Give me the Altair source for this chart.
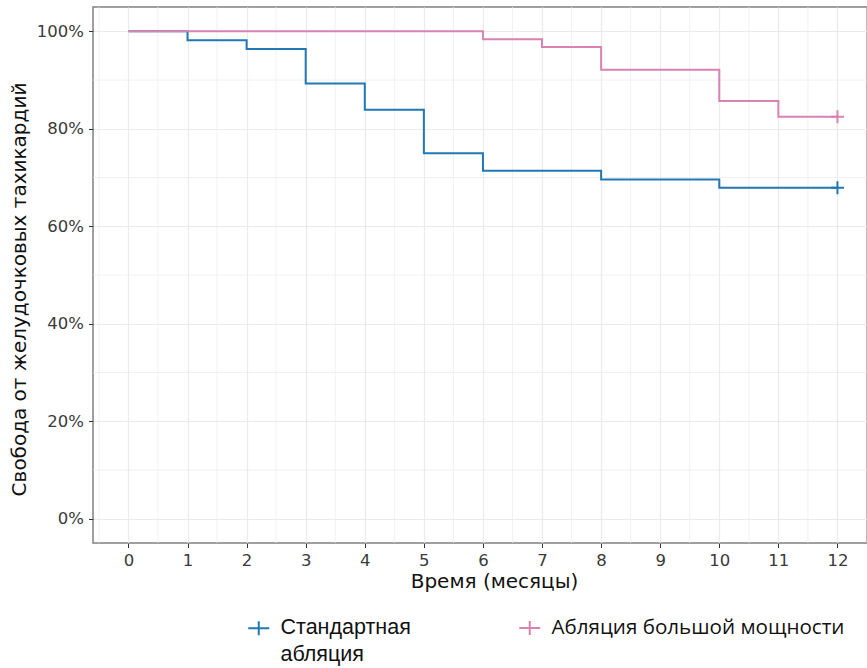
import altair as alt
import pandas as pd

std_name = "Стандартная абляция"
hp_name = "Абляция большой мощности"

std_time = [0, 1, 2, 3, 4, 5, 6, 8, 10, 12]
std_surv = [1.0, 0.982, 0.964, 0.893, 0.839, 0.750, 0.714, 0.696, 0.679, 0.679]

hp_time = [0, 6, 7, 8, 10, 11, 12]
hp_surv = [1.0, 0.984, 0.968, 0.921, 0.857, 0.825, 0.825]

censor_time = [12, 12]
censor_surv = [0.679, 0.825]
censor_group = [std_name, hp_name]

x_ticks = [0, 1, 2, 3, 4, 5, 6, 7, 8, 9, 10, 11, 12]
x_minor = [-0.5, 0.5, 1.5, 2.5, 3.5, 4.5, 5.5, 6.5, 7.5, 8.5, 9.5, 10.5, 11.5, 12.5]
y_ticks = [0, 0.2, 0.4, 0.6, 0.8, 1.0]
y_minor = [0.1, 0.3, 0.5, 0.7, 0.9]

colors = ["#2277B5", "#D883B4"]

curves = pd.DataFrame({
    "t": std_time + hp_time,
    "s": std_surv + hp_surv,
    "g": [std_name] * len(std_time) + [hp_name] * len(hp_time),
    "o": list(range(len(std_time) + len(hp_time))),
})
censor = pd.DataFrame({"t": censor_time, "s": censor_surv, "g": censor_group})
xminor_df = pd.DataFrame({"v": x_minor})
yminor_df = pd.DataFrame({"v": y_minor})

xscale = alt.Scale(domain=[-0.6, 12.5], nice=False, zero=False)
yscale = alt.Scale(domain=[-0.05, 1.05], nice=False, zero=False)

plus_path = "M-1,0L1,0M0,-1L0,1"
legend_plus = "M-1.5,0L1.5,0M0,-1L0,1"

x_axis = alt.Axis(
    values=x_ticks,
    format="d",
    grid=True,
    gridColor="#EBEBEB",
    gridWidth=1.2,
    domain=False,
    tickColor="#333333",
    tickSize=4.5,
    tickWidth=1,
    labelFont="DejaVu Sans",
    labelFontSize=16.5,
    labelColor="#3a3a3a",
    labelPadding=5,
    labelOverlap=False,
    labelFlush=False,
    title="Время (месяцы)",
    titleFont="DejaVu Sans",
    titleFontSize=20,
    titleFontWeight="normal",
    titleColor="#111111",
    titleX=401,
    titleY=44,
    titleBaseline="alphabetic",
)

y_axis = alt.Axis(
    values=y_ticks,
    format=".0%",
    grid=True,
    gridColor="#EBEBEB",
    gridWidth=1.2,
    domain=False,
    tickColor="#333333",
    tickSize=4.5,
    tickWidth=1,
    labelFont="DejaVu Sans",
    labelFontSize=16.5,
    labelColor="#3a3a3a",
    labelPadding=5,
    labelOverlap=False,
    labelFlush=False,
    title="Свобода от желудочковых тахикардий",
    titleFont="DejaVu Sans",
    titleFontSize=20,
    titleFontWeight="normal",
    titleColor="#111111",
    titleAngle=270,
    titleX=-74,
    titleY=282,
    titleAlign="center",
    titleBaseline="middle",
)

grid_x_minor = alt.Chart(xminor_df).mark_rule(color="#EBEBEB", strokeWidth=0.7).encode(
    x=alt.X("v:Q", scale=xscale, axis=x_axis)
)
grid_y_minor = alt.Chart(yminor_df).mark_rule(color="#EBEBEB", strokeWidth=0.7).encode(
    y=alt.Y("v:Q", scale=yscale, axis=y_axis)
)

color_enc = alt.Color(
    "g:N",
    scale=alt.Scale(domain=[std_name, hp_name], range=colors),
    legend=alt.Legend(
        orient="none",
        legendX=155,
        legendY=610,
        direction="horizontal",
        title=None,
        symbolType=legend_plus,
        symbolSize=196,
        symbolStrokeWidth=2,
        labelFont={"expr": "datum.label == '" + hp_name + "' ? 'Open Sans' : 'Liberation Sans'"},
        labelFontSize={"expr": "datum.label == '" + hp_name + "' ? 20.6 : 21.5"},
        labelColor="#111111",
        labelLimit=400,
        labelOffset=11,
        columnPadding=104,
        labelBaseline="middle",
        labelExpr="datum.label == '" + std_name + "' ? ['Стандартная', 'абляция'] : [datum.label, ' ']",
    ),
)

lines = alt.Chart(curves).mark_line(interpolate="step-after", strokeWidth=2).encode(
    x=alt.X("t:Q", scale=xscale, axis=x_axis),
    y=alt.Y("s:Q", scale=yscale, axis=y_axis),
    color=color_enc,
    detail="g:N",
    order="o:Q",
)

marks = alt.Chart(censor).mark_point(
    shape=plus_path, filled=False, size=169, strokeWidth=2, opacity=1
).encode(
    x=alt.X("t:Q", scale=xscale, axis=x_axis),
    y=alt.Y("s:Q", scale=yscale, axis=y_axis),
    color=alt.Color("g:N", scale=alt.Scale(domain=[std_name, hp_name], range=colors), legend=None),
)

chart = alt.layer(grid_x_minor, grid_y_minor, lines, marks).properties(
    width=774,
    height=536,
    padding={"left": 93, "top": 7, "right": 0, "bottom": 125},
    autosize=alt.AutoSizeParams(type="none"),
    background="white",
).configure(
    style={"guide-label": {"lineHeight": 27}}
).configure_view(
    stroke="#808080", strokeWidth=1.5
)

chart.save("out.html", embed_options={"renderer": "svg", "actions": False})
